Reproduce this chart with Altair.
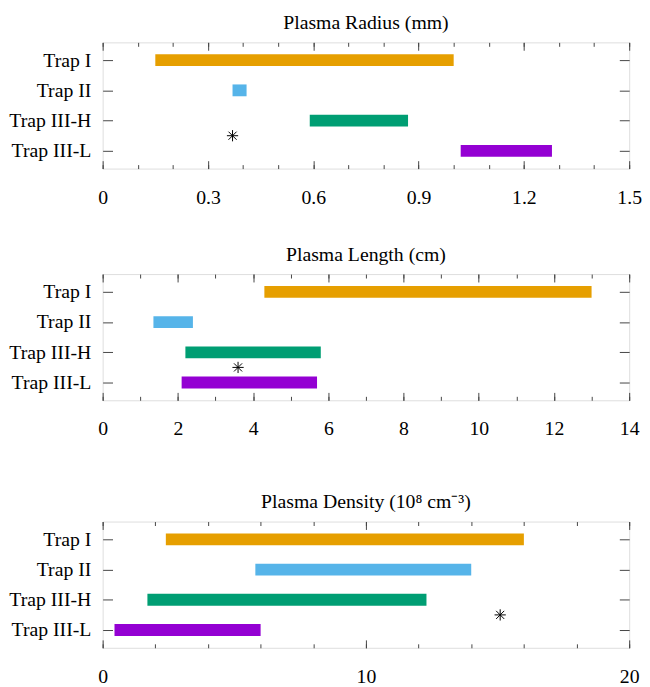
import altair as alt
import pandas as pd

traps = ["Trap I", "Trap II", "Trap III-H", "Trap III-L"]
colors = ["#E69F00", "#56B4E9", "#009E73", "#9400D3"]

radius_lo = [0.15, 0.37, 0.59, 1.02]
radius_hi = [1.00, 0.41, 0.87, 1.28]
radius_star = 0.37

length_lo = [4.3, 1.35, 2.2, 2.1]
length_hi = [13.0, 2.4, 5.8, 5.7]
length_star = 3.6

density_lo = [2.4, 5.8, 1.7, 0.45]
density_hi = [16.0, 14.0, 12.3, 6.0]
density_star = 15.1

star_row = 2.5  # between Trap III-H and Trap III-L

radius_labels = [0, 0.3, 0.6, 0.9, 1.2, 1.5]
radius_minor = [round(i * 0.1, 1) for i in range(16)]
length_labels = [0, 2, 4, 6, 8, 10, 12, 14]
length_minor = list(range(15))
density_labels = [0, 10, 20]
density_minor = list(range(0, 21, 2))

W, H = 534, 128
FONT = "Liberation Serif"
FS = 20
FRAME = "#444444"
STAR = "M-1,0L1,0M0,-1L0,1M-0.72,-0.72L0.72,0.72M-0.72,0.72L0.72,-0.72"

label_expr = "[" + ",".join("'%s'" % t for t in traps) + "][datum.value]"


def panel(title, lo, hi, star, dmax, labels, minor):
    df = pd.DataFrame({"trap": traps, "idx": list(range(len(traps))), "lo": lo, "hi": hi})
    sdf = pd.DataFrame({"x": [star], "idx": [star_row]})
    xs = alt.Scale(domain=[0, dmax], nice=False, zero=False)
    ys = alt.Scale(domain=[-0.587, len(traps) - 1 + 0.587], reverse=True, nice=False, zero=False)
    rows = list(range(len(traps)))

    def ax(**kw):
        base = dict(title=None, grid=False, domain=False, tickColor=FRAME, tickWidth=1)
        base.update(kw)
        return alt.Axis(**base)

    bars = alt.Chart(df).mark_rule(strokeWidth=12, strokeCap="butt").encode(
        x=alt.X("lo:Q", scale=xs, axis=ax(orient="bottom", values=labels, ticks=False, tickSize=0,
                                          labelPadding=19, labelFontSize=FS, labelFont=FONT, format="~g",
                                          labelColor="black", labelFlush=False)),
        x2="hi:Q",
        y=alt.Y("idx:Q", scale=ys, axis=ax(orient="left", values=rows, ticks=False,
                                           tickSize=0, labelPadding=12, labelFontSize=FS, labelFont=FONT,
                                           labelColor="black", labelExpr=label_expr)),
        color=alt.Color("trap:N", scale=alt.Scale(domain=traps, range=colors), legend=None),
    )
    star_mark = alt.Chart(sdf).mark_point(shape=STAR, size=130, color="black", strokeWidth=1,
                                          filled=False, opacity=1).encode(
        x=alt.X("x:Q", scale=xs, axis=ax(orient="bottom", values=labels, offset=-8, tickSize=8, labels=False)),
        y=alt.Y("idx:Q", scale=ys, axis=ax(orient="left", values=rows, offset=-10, tickSize=10, labels=False)),
    )
    t3 = alt.Chart(sdf).mark_point(opacity=0).encode(
        x=alt.X("x:Q", scale=xs, axis=ax(orient="bottom", values=minor, offset=-4, tickSize=4, labels=False)),
        y=alt.Y("idx:Q", scale=ys, axis=ax(orient="right", values=rows, offset=-10, tickSize=10, labels=False)),
    )
    t4 = alt.Chart(sdf).mark_point(opacity=0).encode(
        x=alt.X("x:Q", scale=xs, axis=ax(orient="top", values=labels, offset=-8, tickSize=8, labels=False)),
        y=alt.Y("idx:Q", scale=ys, axis=None),
    )
    t5 = alt.Chart(sdf).mark_point(opacity=0).encode(
        x=alt.X("x:Q", scale=xs, axis=ax(orient="top", values=minor, offset=-4, tickSize=4, labels=False)),
        y=alt.Y("idx:Q", scale=ys, axis=None),
    )
    return alt.layer(bars, star_mark, t3, t4, t5).resolve_axis(x="independent", y="independent").properties(
        width=W, height=H,
        title=alt.TitleParams(title, fontSize=FS, font=FONT, fontWeight="normal", color="black", offset=9),
    )


p1 = panel("Plasma Radius (mm)", radius_lo, radius_hi, radius_star, 1.5, radius_labels, radius_minor)
p2 = panel("Plasma Length (cm)", length_lo, length_hi, length_star, 14, length_labels, length_minor)
p3 = panel("Plasma Density (10⁸ cm⁻³)", density_lo, density_hi, density_star, 20, density_labels, density_minor)

chart = alt.vconcat(alt.vconcat(p1, p2, spacing=37), p3, spacing=53).properties(padding=0).configure_view(
    stroke=FRAME, strokeWidth=1
).configure(background="white")

chart.save("out.html", embed_options={"renderer": "svg", "actions": False})
